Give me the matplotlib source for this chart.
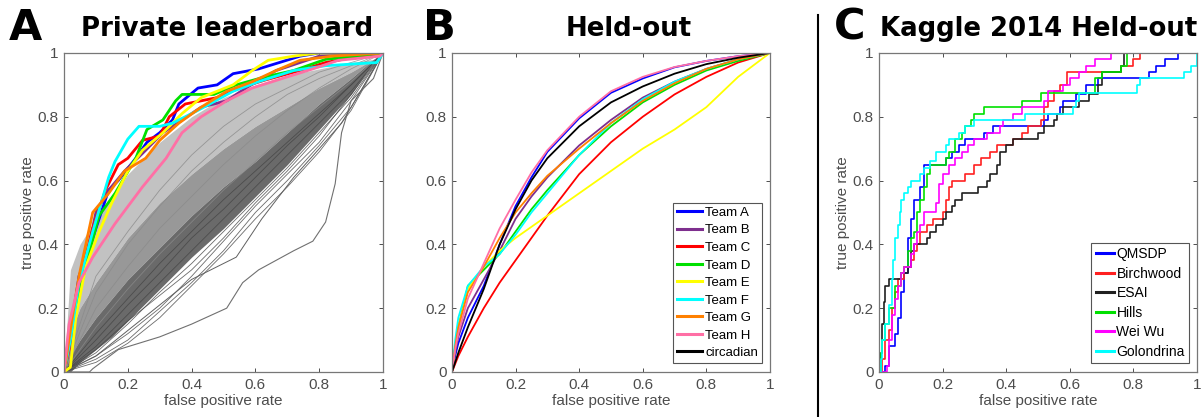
import matplotlib

matplotlib.use("Agg")
import matplotlib.pyplot as plt

# ---- panel A: private leaderboard ----
# gray cloud of all submissions, as bands (top -> bottom)
gray_fpr = [0, 0.02, 0.05, 0.1, 0.15, 0.2, 0.3, 0.4, 0.5, 0.6, 0.7, 0.8, 0.9, 0.97, 1]
gray_top = [0, 0.32, 0.40, 0.48, 0.55, 0.62, 0.72, 0.80, 0.86, 0.90, 0.93, 0.95, 0.97, 0.98, 1.0]
gray_mid = [0, 0.12, 0.20, 0.28, 0.35, 0.42, 0.53, 0.62, 0.70, 0.77, 0.83, 0.89, 0.94, 0.98, 1.0]
gray_core = [0, 0.05, 0.10, 0.17, 0.23, 0.29, 0.39, 0.49, 0.58, 0.66, 0.75, 0.84, 0.92, 0.98, 1.0]
gray_bottom = [0, 0.0, 0.03, 0.07, 0.11, 0.16, 0.26, 0.36, 0.45, 0.55, 0.65, 0.76, 0.87, 0.97, 1.0]

# a few individual gray submissions
sub_fpr = [0, 0.1, 0.2, 0.3, 0.4, 0.5, 0.6, 0.7, 0.8, 0.9, 1]
sub_tpr = [
    [0, 0.06, 0.15, 0.25, 0.34, 0.44, 0.54, 0.64, 0.75, 0.86, 1],
    [0, 0.08, 0.18, 0.28, 0.38, 0.48, 0.58, 0.68, 0.78, 0.88, 1],
    [0, 0.10, 0.21, 0.31, 0.42, 0.51, 0.61, 0.71, 0.80, 0.90, 1],
    [0, 0.05, 0.12, 0.20, 0.30, 0.41, 0.52, 0.62, 0.72, 0.85, 1],
    [0, 0.04, 0.10, 0.19, 0.28, 0.38, 0.50, 0.60, 0.71, 0.83, 1],
    [0, 0.07, 0.16, 0.24, 0.32, 0.42, 0.53, 0.63, 0.74, 0.87, 1],
    [0, 0.12, 0.23, 0.34, 0.44, 0.54, 0.63, 0.72, 0.81, 0.90, 1],
    [0, 0.03, 0.09, 0.17, 0.27, 0.37, 0.48, 0.58, 0.69, 0.82, 1],
]
light_tpr = [
    [0, 0.14, 0.26, 0.37, 0.47, 0.57, 0.66, 0.75, 0.83, 0.91, 1],
    [0, 0.20, 0.33, 0.45, 0.55, 0.65, 0.74, 0.82, 0.89, 0.95, 1],
    [0, 0.25, 0.40, 0.52, 0.63, 0.72, 0.80, 0.87, 0.92, 0.96, 1],
    [0, 0.30, 0.44, 0.57, 0.68, 0.77, 0.84, 0.89, 0.94, 0.97, 1],
]
out1_fpr = [0, 0.08, 0.09, 0.17, 0.30, 0.40, 0.51, 0.56, 0.61, 0.72, 0.78, 0.82, 0.85, 0.87, 0.90, 0.97, 1.0]
out1_tpr = [0, 0.0, 0.01, 0.07, 0.11, 0.15, 0.20, 0.28, 0.32, 0.38, 0.41, 0.47, 0.59, 0.75, 0.85, 0.92, 1.0]
out2_fpr = [0, 0.1, 0.2, 0.3, 0.4, 0.5, 0.54, 0.62, 0.72, 0.8, 0.87, 0.93, 1]
out2_tpr = [0, 0.05, 0.13, 0.21, 0.29, 0.34, 0.36, 0.48, 0.61, 0.70, 0.78, 0.88, 1]

a_teams = ["Team A", "Team B", "Team C", "Team D", "Team E", "Team F", "Team G", "Team H"]
a_fpr = {
    "Team A": [0, 0.02, 0.047, 0.09, 0.14, 0.17, 0.225, 0.26, 0.30, 0.34, 0.36, 0.42, 0.48, 0.53, 0.61, 0.74, 0.80, 1.0],
    "Team B": [0, 0.016, 0.058, 0.10, 0.14, 0.19, 0.256, 0.31, 0.37, 0.43, 0.51, 0.57, 0.665, 0.80, 1.0],
    "Team C": [0, 0.016, 0.047, 0.09, 0.13, 0.17, 0.20, 0.246, 0.30, 0.33, 0.38, 0.48, 0.55, 0.63, 0.74, 0.82, 0.93, 1.0],
    "Team D": [0, 0.026, 0.07, 0.11, 0.16, 0.225, 0.26, 0.31, 0.35, 0.37, 0.47, 0.54, 0.63, 0.72, 0.82, 1.0],
    "Team E": [0, 0.02, 0.037, 0.068, 0.11, 0.15, 0.20, 0.246, 0.31, 0.37, 0.43, 0.53, 0.59, 0.64, 0.72, 0.80, 1.0],
    "Team F": [0, 0.02, 0.047, 0.09, 0.14, 0.16, 0.20, 0.235, 0.30, 0.34, 0.40, 0.42, 0.53, 0.61, 0.72, 0.82, 0.98, 1.0],
    "Team G": [0, 0.005, 0.026, 0.047, 0.09, 0.14, 0.19, 0.256, 0.30, 0.36, 0.43, 0.51, 0.59, 0.665, 0.74, 0.84, 1.0],
    "Team H": [0, 0.016, 0.047, 0.09, 0.16, 0.246, 0.32, 0.37, 0.43, 0.51, 0.59, 0.70, 0.78, 0.86, 0.99, 1.0],
}
a_tpr = {
    "Team A": [0, 0.12, 0.30, 0.42, 0.57, 0.60, 0.67, 0.72, 0.75, 0.79, 0.84, 0.89, 0.90, 0.935, 0.95, 0.99, 1.0, 1.0],
    "Team B": [0, 0.12, 0.30, 0.50, 0.57, 0.63, 0.695, 0.75, 0.79, 0.83, 0.85, 0.89, 0.945, 0.99, 1.0],
    "Team C": [0, 0.07, 0.28, 0.45, 0.57, 0.65, 0.67, 0.726, 0.74, 0.80, 0.84, 0.86, 0.89, 0.915, 0.945, 0.97, 0.99, 1.0],
    "Team D": [0, 0.15, 0.34, 0.49, 0.56, 0.67, 0.76, 0.79, 0.85, 0.87, 0.87, 0.90, 0.925, 0.945, 0.98, 1.0],
    "Team E": [0, 0.015, 0.17, 0.33, 0.44, 0.53, 0.63, 0.695, 0.75, 0.81, 0.86, 0.90, 0.945, 0.977, 0.99, 1.0, 1.0],
    "Team F": [0, 0.10, 0.28, 0.44, 0.61, 0.66, 0.73, 0.77, 0.77, 0.78, 0.81, 0.82, 0.88, 0.91, 0.945, 0.96, 0.97, 1.0],
    "Team G": [0, 0.03, 0.17, 0.30, 0.50, 0.56, 0.63, 0.67, 0.726, 0.78, 0.83, 0.88, 0.91, 0.945, 0.977, 0.99, 1.0],
    "Team H": [0, 0.15, 0.28, 0.36, 0.465, 0.58, 0.67, 0.75, 0.80, 0.85, 0.89, 0.925, 0.95, 0.977, 0.99, 1.0],
}

# ---- panel B: held-out ----
b_fpr = [0, 0.01, 0.02, 0.05, 0.1, 0.15, 0.2, 0.25, 0.3, 0.4, 0.5, 0.6, 0.7, 0.8, 0.9, 1.0]
b_names = ["Team A", "Team B", "Team C", "Team D", "Team E", "Team F", "Team G", "Team H", "circadian"]
b_tpr = {
    "Team A": [0, 0.05, 0.09, 0.17, 0.27, 0.40, 0.52, 0.61, 0.69, 0.795, 0.875, 0.92, 0.955, 0.975, 0.99, 1],
    "Team B": [0, 0.06, 0.11, 0.20, 0.29, 0.38, 0.48, 0.55, 0.61, 0.71, 0.79, 0.86, 0.91, 0.95, 0.98, 1],
    "Team C": [0, 0.025, 0.05, 0.11, 0.20, 0.28, 0.35, 0.42, 0.49, 0.62, 0.72, 0.80, 0.87, 0.925, 0.97, 1],
    "Team D": [0, 0.08, 0.14, 0.27, 0.32, 0.37, 0.44, 0.51, 0.57, 0.68, 0.77, 0.845, 0.90, 0.945, 0.975, 1],
    "Team E": [0, 0.08, 0.14, 0.26, 0.33, 0.38, 0.42, 0.455, 0.49, 0.56, 0.63, 0.70, 0.76, 0.83, 0.925, 1],
    "Team F": [0, 0.10, 0.17, 0.27, 0.33, 0.37, 0.43, 0.50, 0.56, 0.68, 0.78, 0.855, 0.91, 0.95, 0.98, 1],
    "Team G": [0, 0.08, 0.14, 0.25, 0.33, 0.42, 0.50, 0.56, 0.615, 0.70, 0.78, 0.85, 0.905, 0.95, 0.98, 1],
    "Team H": [0, 0.07, 0.12, 0.23, 0.34, 0.45, 0.54, 0.625, 0.695, 0.80, 0.88, 0.925, 0.956, 0.975, 0.99, 1],
    "circadian": [0, 0.03, 0.06, 0.14, 0.26, 0.40, 0.51, 0.60, 0.67, 0.77, 0.845, 0.895, 0.935, 0.965, 0.985, 1],
}

# ---- panel C: Kaggle 2014 held-out (step curves) ----
c_names = ["QMSDP", "Birchwood", "ESAI", "Hills", "Wei Wu", "Golondrina"]
c_fpr = {
    "QMSDP": [0, 0.02, 0.03, 0.05, 0.06, 0.07, 0.08, 0.09, 0.10, 0.11, 0.13, 0.14, 0.21, 0.23, 0.25, 0.27, 0.33, 0.36,
              0.52, 0.53, 0.57, 0.58, 0.62, 0.65, 0.69, 0.85, 0.87, 0.90, 0.94, 1.0],
    "Birchwood": [0, 0.01, 0.02, 0.03, 0.04, 0.05, 0.06, 0.08, 0.10, 0.11, 0.12, 0.13, 0.15, 0.17, 0.20, 0.21, 0.22,
                  0.23, 0.27, 0.30, 0.32, 0.35, 0.37, 0.42, 0.45, 0.47, 0.51, 0.52, 0.53, 0.55, 0.57, 0.59, 0.76,
                  0.80, 0.82, 1.0],
    "ESAI": [0, 0.005, 0.01, 0.015, 0.02, 0.03, 0.07, 0.09, 0.10, 0.11, 0.15, 0.16, 0.18, 0.20, 0.21, 0.23, 0.24, 0.26,
             0.31, 0.34, 0.35, 0.37, 0.38, 0.40, 0.42, 0.50, 0.52, 0.55, 0.56, 0.58, 0.63, 0.66, 0.69, 0.70, 0.76,
             0.77, 1.0],
    "Hills": [0, 0.005, 0.01, 0.02, 0.03, 0.05, 0.07, 0.08, 0.09, 0.10, 0.11, 0.12, 0.13, 0.14, 0.15, 0.16, 0.21, 0.22,
              0.24, 0.26, 0.27, 0.29, 0.30, 0.33, 0.45, 0.51, 0.68, 0.70, 0.76, 0.78, 1.0],
    "Wei Wu": [0, 0.025, 0.03, 0.04, 0.05, 0.06, 0.07, 0.08, 0.10, 0.11, 0.12, 0.13, 0.14, 0.18, 0.19, 0.20, 0.22,
               0.24, 0.26, 0.28, 0.30, 0.34, 0.38, 0.39, 0.42, 0.45, 0.52, 0.53, 0.58, 0.60, 0.63, 0.65, 0.68, 0.73,
               1.0],
    "Golondrina": [0, 0.005, 0.01, 0.02, 0.03, 0.04, 0.045, 0.05, 0.06, 0.065, 0.07, 0.08, 0.09, 0.10, 0.13, 0.14,
                   0.16, 0.18, 0.21, 0.22, 0.25, 0.27, 0.30, 0.46, 0.61, 0.62, 0.63, 0.81, 0.82, 0.96, 0.98, 1.0,
                   1.0],
}
c_tpr = {
    "QMSDP": [0, 0.02, 0.08, 0.12, 0.17, 0.25, 0.31, 0.42, 0.48, 0.54, 0.58, 0.65, 0.67, 0.69, 0.71, 0.73, 0.75, 0.77,
              0.79, 0.81, 0.83, 0.85, 0.87, 0.90, 0.92, 0.94, 0.96, 0.98, 1.0, 1.0],
    "Birchwood": [0, 0.04, 0.10, 0.13, 0.20, 0.25, 0.29, 0.33, 0.35, 0.38, 0.40, 0.44, 0.46, 0.48, 0.50, 0.54, 0.58,
                  0.60, 0.62, 0.65, 0.67, 0.69, 0.71, 0.73, 0.75, 0.77, 0.79, 0.83, 0.85, 0.88, 0.90, 0.94, 0.96,
                  0.98, 1.0, 1.0],
    "ESAI": [0, 0.06, 0.15, 0.22, 0.27, 0.29, 0.31, 0.33, 0.38, 0.40, 0.42, 0.44, 0.46, 0.48, 0.50, 0.52, 0.54, 0.56,
             0.58, 0.60, 0.62, 0.65, 0.69, 0.71, 0.73, 0.75, 0.77, 0.79, 0.81, 0.83, 0.85, 0.87, 0.90, 0.94, 0.96,
             1.0, 1.0],
    "Hills": [0, 0.06, 0.10, 0.15, 0.20, 0.27, 0.31, 0.33, 0.38, 0.42, 0.44, 0.50, 0.54, 0.58, 0.62, 0.65, 0.67, 0.69,
              0.73, 0.75, 0.77, 0.79, 0.81, 0.83, 0.85, 0.875, 0.92, 0.94, 0.96, 1.0, 1.0],
    "Wei Wu": [0, 0.02, 0.10, 0.18, 0.23, 0.27, 0.31, 0.33, 0.37, 0.40, 0.44, 0.46, 0.50, 0.53, 0.59, 0.62, 0.65,
               0.67, 0.69, 0.71, 0.73, 0.75, 0.77, 0.79, 0.81, 0.83, 0.85, 0.88, 0.90, 0.92, 0.94, 0.96, 0.98, 1.0,
               1.0],
    "Golondrina": [0, 0.04, 0.10, 0.15, 0.21, 0.29, 0.35, 0.42, 0.46, 0.50, 0.54, 0.56, 0.58, 0.60, 0.62, 0.64, 0.66,
                   0.69, 0.71, 0.73, 0.75, 0.77, 0.79, 0.81, 0.83, 0.85, 0.875, 0.90, 0.92, 0.94, 0.96, 0.96, 1.0],
}

team_colors = {
    "Team A": "#0000ff", "Team B": "#7e2f8e", "Team C": "#ff0000", "Team D": "#00e000",
    "Team E": "#ffff00", "Team F": "#00ffff", "Team G": "#ff8000", "Team H": "#ff6fa5",
    "circadian": "#000000",
}
c_colors = {
    "QMSDP": "#0000ff", "Birchwood": "#ff2020", "ESAI": "#202020", "Hills": "#00e000",
    "Wei Wu": "#ff00ff", "Golondrina": "#00ffff",
}

TICK = "#4d4d4d"
TICK_FONT = ["Liberation Sans", "DejaVu Sans"]
TITLE_FONT = ["DejaVu Sans"]


def style_axes(ax, ylabel=True):
    ax.set_xlim(0, 1)
    ax.set_ylim(0, 1)
    ticks = [0, 0.2, 0.4, 0.6, 0.8, 1]
    labels = ["0", "0.2", "0.4", "0.6", "0.8", "1"]
    ax.set_xticks(ticks, labels)
    ax.set_yticks(ticks, labels)
    ax.tick_params(direction="in", length=3, width=0.7, colors=TICK, labelsize=11,
                   top=True, right=True, pad=4)
    for lab in ax.get_xticklabels() + ax.get_yticklabels():
        lab.set_family(TICK_FONT)
    for sp in ax.spines.values():
        sp.set_color("#777777")
        sp.set_linewidth(0.9)
    ax.set_xlabel("false positive rate", color=TICK, fontsize=11, family=TICK_FONT, labelpad=2)
    if ylabel:
        ax.set_ylabel("true positive rate", color=TICK, fontsize=11, family=TICK_FONT, labelpad=2)


def add_legend(ax, size, handlelength):
    leg = ax.legend(loc="lower right", handlelength=handlelength, handletextpad=0.2,
                    borderpad=0.3, labelspacing=0.4, borderaxespad=0, fancybox=False,
                    framealpha=1, prop={"family": TICK_FONT, "size": size},
                    bbox_to_anchor=(0.975, 0.028))
    leg.get_frame().set_edgecolor("#555555")
    leg.get_frame().set_linewidth(0.8)
    for line in leg.get_lines():
        line.set_linewidth(2.2)


def panel_title(fig, letter, title, letter_x, title_x):
    fig.text(letter_x, 0.905, letter, fontsize=31, fontweight="bold", family=TITLE_FONT,
             ha="left", va="baseline")
    fig.text(title_x, 0.913, title, fontsize=18.7, fontweight="bold", family=TITLE_FONT,
             ha="center", va="baseline")


def main():
    fig = plt.figure(figsize=(12.03, 4.17), dpi=100)
    ax_a = fig.add_axes([0.0532, 0.108, 0.2652, 0.765])
    ax_b = fig.add_axes([0.3757, 0.108, 0.2643, 0.765])
    ax_c = fig.add_axes([0.7307, 0.108, 0.2643, 0.765])

    # A
    ax_a.fill_between(gray_fpr, gray_mid, gray_top, color="#c2c2c2", lw=0)
    ax_a.fill_between(gray_fpr, gray_core, gray_mid, color="#989898", lw=0)
    ax_a.fill_between(gray_fpr, gray_bottom, gray_core, color="#6a6a6a", lw=0)
    for tpr in light_tpr:
        ax_a.plot(sub_fpr, tpr, color="#8a8a8a", lw=0.6, alpha=0.8)
    for tpr in sub_tpr:
        ax_a.plot(sub_fpr, tpr, color="#454545", lw=0.6, alpha=0.8)
    ax_a.plot(out1_fpr, out1_tpr, color="#707070", lw=0.8)
    ax_a.plot(out2_fpr, out2_tpr, color="#606060", lw=0.7)
    for name in a_teams:
        ax_a.plot(a_fpr[name], a_tpr[name], color=team_colors[name], lw=2.0)
    style_axes(ax_a)

    # B
    for name in b_names:
        ax_b.plot(b_fpr, b_tpr[name], color=team_colors[name], lw=1.3, label=name)
    style_axes(ax_b, ylabel=False)
    add_legend(ax_b, 9.5, 1.9)

    # C
    for name in c_names:
        ax_c.plot(c_fpr[name], c_tpr[name], color=c_colors[name], lw=1.2, label=name,
                  drawstyle="steps-post")
    style_axes(ax_c)
    add_legend(ax_c, 10, 1.3)

    panel_title(fig, "A", "Private leaderboard", 0.007, 0.189)
    panel_title(fig, "B", "Held-out", 0.352, 0.523)
    panel_title(fig, "C", "Kaggle 2014 Held-out", 0.693, 0.863)

    # divider between B and C
    fig.add_artist(plt.Line2D([0.68, 0.68], [0.0, 0.965], color="black", lw=1.5))

    fig.savefig("out.png", dpi=100)
    plt.close(fig)


if __name__ == "__main__":
    main()
